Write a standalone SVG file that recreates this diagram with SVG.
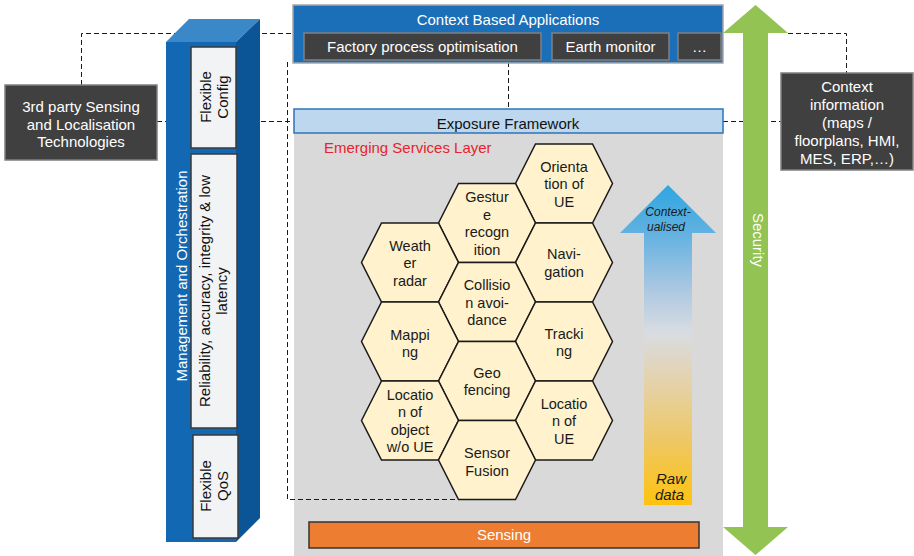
<svg xmlns="http://www.w3.org/2000/svg" xmlns:xlink="http://www.w3.org/1999/xlink" width="914" height="556" viewBox="0 0 914 556">
<style>
text{font-family:"Liberation Sans",Arial,sans-serif;font-size:15px;text-anchor:middle}
.w{fill:#ffffff}
.k{fill:#111111}
.dark{fill:#404040;stroke:#808080;stroke-width:1.5}
.pale{fill:#f2f3f5;stroke:#3a3a3a;stroke-width:1.5}
.hex{fill:#fff2cc;stroke:#1a1a1a;stroke-width:1.5}
.ht{font-size:14.5px;fill:#1a1a1a}
.dash{fill:none;stroke:#1a1a1a;stroke-width:1;stroke-dasharray:5,3}
.it{font-style:italic;fill:#1a1a1a}
</style>
<defs>
<polygon id="hex" points="-48.5,0 -28.5,-39.5 28.5,-39.5 48.5,0 28.5,39.5 -28.5,39.5"/>
<linearGradient id="grad" gradientUnits="userSpaceOnUse" x1="0" y1="185" x2="0" y2="505">
<stop offset="0" stop-color="#2ea6e0"/>
<stop offset="0.15" stop-color="#62b1e1"/>
<stop offset="0.32" stop-color="#a9c7e1"/>
<stop offset="0.46" stop-color="#d8dce2"/>
<stop offset="0.6" stop-color="#e3d3b0"/>
<stop offset="0.8" stop-color="#eec764"/>
<stop offset="1" stop-color="#ffc20e"/>
</linearGradient>
</defs>

<g id="services-layer">
<rect x="294" y="133" width="429" height="423" fill="#d9d9d9"/>
<text x="324" y="152.5" style="text-anchor:start;fill:#e8242c">Emerging Services Layer</text>
</g>

<g id="connectors">
<polyline class="dash" points="81.5,85 81.5,33.5 293,33.5"/>
<line class="dash" x1="157" y1="121.5" x2="293" y2="121.5"/>
<polyline class="dash" points="287.5,62 287.5,499.5 459,499.5"/>
<line class="dash" x1="508.5" y1="62" x2="508.5" y2="108"/>
<line class="dash" x1="723" y1="121.5" x2="781" y2="121.5"/>
<polyline class="dash" points="788,33.5 846.5,33.5 846.5,73"/>
</g>

<g id="context-based-applications">
<rect x="293" y="5" width="430" height="58" fill="#1a6fb8" stroke="#a6a6a6" stroke-width="1.5"/>
<text class="w" x="508" y="24.5">Context Based Applications</text>
</g>
<g id="app-factory">
<rect class="dark" x="304" y="33" width="237" height="27"/>
<text class="w" x="422.5" y="52">Factory process optimisation</text>
</g>
<g id="app-earth">
<rect class="dark" x="552" y="33" width="117" height="27"/>
<text class="w" x="610.5" y="52">Earth monitor</text>
</g>
<g id="app-more">
<rect class="dark" x="678" y="33" width="43" height="27"/>
<text class="w" x="699.5" y="52">…</text>
</g>

<g id="exposure-framework">
<rect x="294" y="109" width="429" height="24" fill="#bdd7ee" stroke="#2e75b6" stroke-width="1.5"/>
<text class="k" x="508" y="128.5">Exposure Framework</text>
</g>

<g id="third-party">
<rect class="dark" x="5" y="85" width="152" height="75"/>
<text class="w" x="81" y="111.5">3rd party Sensing</text>
<text class="w" x="81" y="129.5">and Localisation</text>
<text class="w" x="81" y="146.5">Technologies</text>
</g>

<g id="context-information">
<rect class="dark" x="781" y="73" width="132" height="97"/>
<text class="w" x="847" y="92">Context</text>
<text class="w" x="847" y="109.5">information</text>
<text class="w" x="847" y="127.5">(maps /</text>
<text class="w" x="847" y="145.5">floorplans, HMI,</text>
<text class="w" x="847" y="163.5">MES, ERP,…)</text>
</g>

<g id="management-orchestration">
<polygon points="166,42 189,19 260,19 236,42" fill="#3b88c8"/>
<polygon points="236,42 260,19 260,518 236,542" fill="#0b5596"/>
<rect x="166" y="42" width="70" height="500" fill="#1268b3"/>
<text class="w" transform="translate(186.5,276) rotate(-90)">Management and Orchestration</text>
</g>
<g id="flexible-config">
<rect class="pale" x="191" y="47" width="45" height="101"/>
<text class="k" transform="translate(210.5,97) rotate(-90)">Flexible</text>
<text class="k" transform="translate(227.5,97) rotate(-90)">Config</text>
</g>
<g id="reliability">
<rect class="pale" x="191" y="154" width="46" height="274"/>
<text class="k" transform="translate(209.5,291) rotate(-90)">Reliability, accuracy, integrity &amp; low</text>
<text class="k" transform="translate(227,291) rotate(-90)">latency</text>
</g>
<g id="flexible-qos">
<rect class="pale" x="193" y="435" width="45" height="103"/>
<text class="k" transform="translate(211,486) rotate(-90)">Flexible</text>
<text class="k" transform="translate(228,486) rotate(-90)">QoS</text>
</g>

<g id="security">
<polygon points="755.5,5 788,33 768,33 768,527 788,527 755.5,555 723,527 743,527 743,33 723,33" fill="#92c353"/>
<text class="w" transform="translate(752.5,240) rotate(90)">Security</text>
</g>

<g id="contextualisation-arrow">
<polygon points="668,185 716,233 692,233 692,505 644,505 644,233 620,233" fill="url(#grad)"/>
<text class="it" x="668" y="216" style="font-size:12px">Context-</text>
<text class="it" x="666" y="231" style="font-size:12px">ualised</text>
<text class="it" x="671" y="483.5">Raw</text>
<text class="it" x="669.5" y="499.5">data</text>
</g>

<g id="hex-orientation" transform="translate(564,183.5)">
<use href="#hex" class="hex"/>
<text class="ht" y="-12">Orienta</text><text class="ht" y="5.5">tion of</text><text class="ht" y="23">UE</text>
</g>
<g id="hex-gesture" transform="translate(487,223)">
<use href="#hex" class="hex"/>
<text class="ht" y="-20.75">Gestur</text><text class="ht" y="-3.25">e</text><text class="ht" y="14.25">recogn</text><text class="ht" y="31.75">ition</text>
</g>
<g id="hex-weather" transform="translate(410,262.5)">
<use href="#hex" class="hex"/>
<text class="ht" y="-12">Weath</text><text class="ht" y="5.5">er</text><text class="ht" y="23">radar</text>
</g>
<g id="hex-navigation" transform="translate(564,262.5)">
<use href="#hex" class="hex"/>
<text class="ht" y="-3.25">Navi-</text><text class="ht" y="14.25">gation</text>
</g>
<g id="hex-collision" transform="translate(487,302)">
<use href="#hex" class="hex"/>
<text class="ht" y="-12">Collisio</text><text class="ht" y="5.5">n avoi-</text><text class="ht" y="23">dance</text>
</g>
<g id="hex-mapping" transform="translate(410,341.5)">
<use href="#hex" class="hex"/>
<text class="ht" y="-2">Mappi</text><text class="ht" y="15.5">ng</text>
</g>
<g id="hex-tracking" transform="translate(564,341.5)">
<use href="#hex" class="hex"/>
<text class="ht" y="-3">Tracki</text><text class="ht" y="14.5">ng</text>
</g>
<g id="hex-geofencing" transform="translate(487,381)">
<use href="#hex" class="hex"/>
<text class="ht" y="-3.25">Geo</text><text class="ht" y="14.25">fencing</text>
</g>
<g id="hex-location-object" transform="translate(410,420.5)">
<use href="#hex" class="hex"/>
<text class="ht" y="-20.75">Locatio</text><text class="ht" y="-3.25">n of</text><text class="ht" y="14.25">object</text><text class="ht" y="31.75">w/o UE</text>
</g>
<g id="hex-location-ue" transform="translate(564,420.5)">
<use href="#hex" class="hex"/>
<text class="ht" y="-12">Locatio</text><text class="ht" y="5.5">n of</text><text class="ht" y="23">UE</text>
</g>
<g id="hex-sensor-fusion" transform="translate(487,460)">
<use href="#hex" class="hex"/>
<text class="ht" y="-1.75">Sensor</text><text class="ht" y="15.75">Fusion</text>
</g>

<g id="sensing">
<rect x="309" y="522" width="390" height="26" fill="#ed7d31" stroke="#333333" stroke-width="1.5"/>
<text class="w" x="504" y="539.5">Sensing</text>
</g>
</svg>
